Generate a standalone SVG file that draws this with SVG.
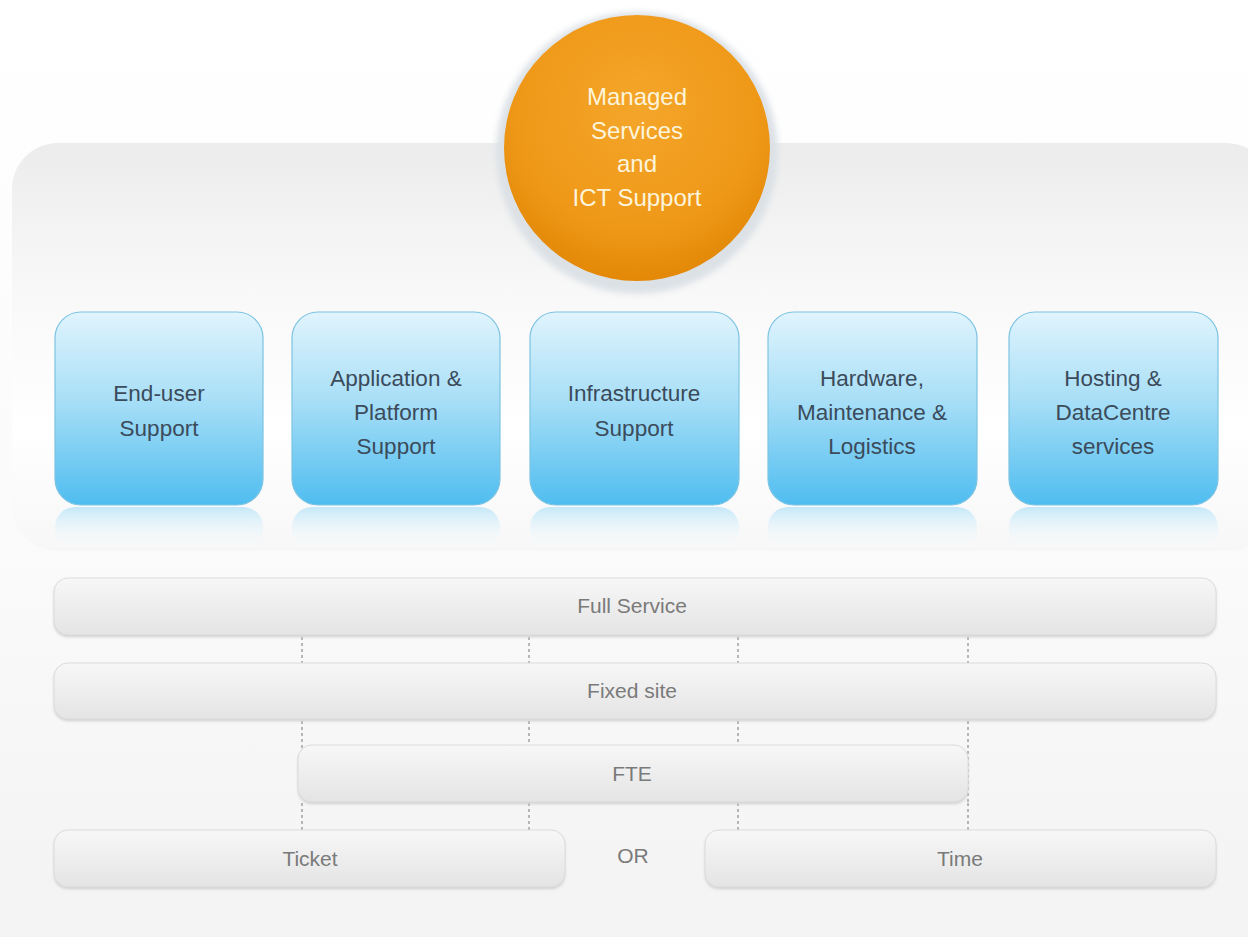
<svg xmlns="http://www.w3.org/2000/svg" width="1248" height="937" viewBox="0 0 1248 937">
<defs>
<linearGradient id="bg" x1="0" y1="0" x2="0" y2="1">
<stop offset="0" stop-color="#ffffff"/><stop offset="0.55" stop-color="#fbfbfb"/><stop offset="1" stop-color="#f3f3f3"/>
</linearGradient>
<linearGradient id="panel" x1="0" y1="0" x2="0" y2="1">
<stop offset="0" stop-color="#ececec"/><stop offset="0.35" stop-color="#f8f8f8"/><stop offset="0.7" stop-color="#ffffff"/><stop offset="1" stop-color="#f7f7f7"/>
</linearGradient>
<radialGradient id="orange" cx="0.5" cy="0.35" r="0.65">
<stop offset="0" stop-color="#f4a62a"/><stop offset="0.7" stop-color="#ef9818"/><stop offset="1" stop-color="#e38807"/>
</radialGradient>
<linearGradient id="blue" x1="0" y1="0" x2="0" y2="1">
<stop offset="0" stop-color="#e0f4fd"/><stop offset="0.45" stop-color="#a9dff7"/><stop offset="1" stop-color="#4fbdf0"/>
</linearGradient>
<linearGradient id="refl" x1="0" y1="0" x2="0" y2="1">
<stop offset="0" stop-color="#bfe6f8" stop-opacity="0.9"/><stop offset="1" stop-color="#ffffff" stop-opacity="0"/>
</linearGradient>
<linearGradient id="bar" x1="0" y1="0" x2="0" y2="1">
<stop offset="0" stop-color="#f7f7f7"/><stop offset="1" stop-color="#e4e4e4"/>
</linearGradient>
<filter id="blur" x="-20%" y="-20%" width="140%" height="140%"><feGaussianBlur stdDeviation="3"/></filter>
<filter id="sh" x="-5%" y="-20%" width="110%" height="150%"><feGaussianBlur stdDeviation="1.5"/></filter>
</defs>
<style>
.bx{fill:url(#blue);stroke:#7cc3e2;stroke-width:1.2}
.rf{fill:url(#refl)}
.bt{font-family:"Liberation Sans",Arial,sans-serif;font-size:22.5px;fill:#3b4b5b;text-anchor:middle}
.ct{font-family:"Liberation Sans",Arial,sans-serif;font-size:24px;fill:#fdf4dc;text-anchor:middle}
.br{fill:url(#bar);stroke:#dcdcdc;stroke-width:1}
.bs{fill:#cfcfcf;filter:url(#sh)}
.lt{font-family:"Liberation Sans",Arial,sans-serif;font-size:21px;fill:#7a7a7a;text-anchor:middle}
.dl{stroke:#777;stroke-width:1;stroke-dasharray:3,3;fill:none}
</style>
<rect x="0" y="0" width="1248" height="937" fill="url(#bg)"/>
<g id="panel">
<rect x="12" y="143" width="1260" height="408" rx="46" fill="url(#panel)"/>
</g>
<g id="hub">
<circle cx="637" cy="153" r="141" fill="#dce1e6" filter="url(#blur)"/>
<circle cx="637" cy="148" r="133" fill="url(#orange)"/>
<text class="ct" x="637" y="105">Managed</text>
<text class="ct" x="637" y="139">Services</text>
<text class="ct" x="637" y="172">and</text>
<text class="ct" x="637" y="206">ICT Support</text>
</g>
<g id="box1">
<rect class="rf" x="55" y="507" width="208" height="44" rx="20"/>
<rect class="bx" x="55" y="312" width="208" height="193" rx="26"/>
<text class="bt" x="159" y="401">End-user</text>
<text class="bt" x="159" y="436">Support</text>
</g>
<g id="box2">
<rect class="rf" x="292" y="507" width="208" height="44" rx="20"/>
<rect class="bx" x="292" y="312" width="208" height="193" rx="26"/>
<text class="bt" x="396" y="386">Application &amp;</text>
<text class="bt" x="396" y="420">Platform</text>
<text class="bt" x="396" y="454">Support</text>
</g>
<g id="box3">
<rect class="rf" x="530" y="507" width="209" height="44" rx="20"/>
<rect class="bx" x="530" y="312" width="209" height="193" rx="26"/>
<text class="bt" x="634" y="401">Infrastructure</text>
<text class="bt" x="634" y="436">Support</text>
</g>
<g id="box4">
<rect class="rf" x="768" y="507" width="209" height="44" rx="20"/>
<rect class="bx" x="768" y="312" width="209" height="193" rx="26"/>
<text class="bt" x="872" y="386">Hardware,</text>
<text class="bt" x="872" y="420">Maintenance &amp;</text>
<text class="bt" x="872" y="454">Logistics</text>
</g>
<g id="box5">
<rect class="rf" x="1009" y="507" width="209" height="44" rx="20"/>
<rect class="bx" x="1009" y="312" width="209" height="193" rx="26"/>
<text class="bt" x="1113" y="386">Hosting &amp;</text>
<text class="bt" x="1113" y="420">DataCentre</text>
<text class="bt" x="1113" y="454">services</text>
</g>
<g id="connectors">
<path class="dl" d="M302 637V663M529 637V663M738 637V663M968 637V663"/>
<path class="dl" d="M302 721V750M529 721V746M738 721V746M968 721V803"/>
<path class="dl" d="M302 803V830M529 803V830M738 803V830M968 803V830"/>
</g>
<g id="full">
<rect class="bs" x="54" y="580" width="1162" height="57" rx="14"/>
<rect class="br" x="54" y="578" width="1162" height="57" rx="14"/>
<text class="lt" x="632" y="613">Full Service</text>
</g>
<g id="fixed">
<rect class="bs" x="54" y="665" width="1162" height="56" rx="14"/>
<rect class="br" x="54" y="663" width="1162" height="56" rx="14"/>
<text class="lt" x="632" y="698">Fixed site</text>
</g>
<g id="fte">
<rect class="bs" x="298" y="747" width="670" height="57" rx="14"/>
<rect class="br" x="298" y="745" width="670" height="57" rx="14"/>
<text class="lt" x="632" y="781">FTE</text>
</g>
<g id="ticket">
<rect class="bs" x="54" y="832" width="511" height="57" rx="14"/>
<rect class="br" x="54" y="830" width="511" height="57" rx="14"/>
<text class="lt" x="310" y="866">Ticket</text>
</g>
<g id="or">
<text class="lt" x="633" y="863">OR</text>
</g>
<g id="time">
<rect class="bs" x="705" y="832" width="511" height="57" rx="14"/>
<rect class="br" x="705" y="830" width="511" height="57" rx="14"/>
<text class="lt" x="960" y="866">Time</text>
</g>
</svg>
